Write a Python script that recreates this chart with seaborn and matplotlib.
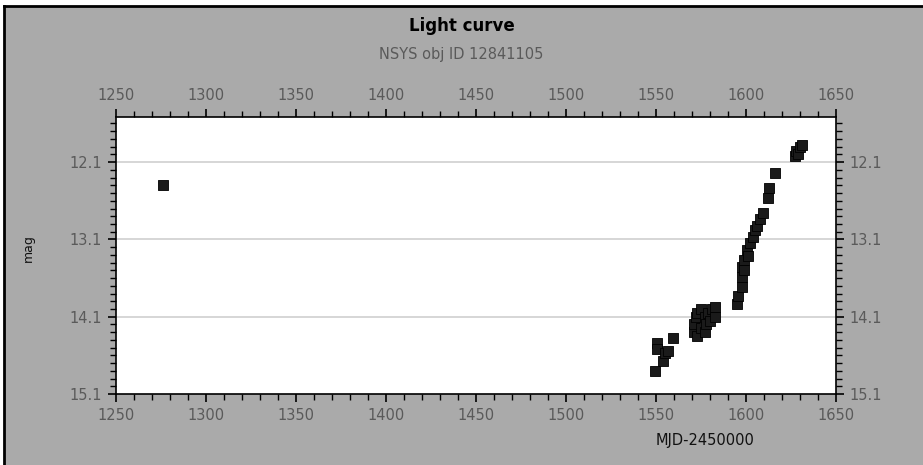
import numpy as np
import pandas as pd
import seaborn as sns
from matplotlib import pyplot as plt
from matplotlib.lines import Line2D
from matplotlib.patches import Rectangle
from matplotlib.ticker import MultipleLocator, FixedLocator

mjd = [1276,
       1549.5, 1550.5, 1550.5, 1554, 1555, 1556.5, 1559.4,
       1571, 1571, 1572, 1573, 1573, 1575, 1575, 1577, 1577, 1578,
       1579, 1580, 1581, 1583, 1583,
       1595, 1595.5, 1598, 1598, 1598, 1599, 1599, 1600.5, 1601,
       1602, 1604, 1605, 1606, 1608, 1609.6, 1612, 1613, 1616,
       1627, 1628, 1629, 1630, 1631]
mag = [12.40,
       14.80, 14.44, 14.52, 14.67, 14.57, 14.55, 14.37,
       14.30, 14.20, 14.10, 14.05, 14.35, 14.00, 14.25, 14.10, 14.30, 14.20,
       14.05, 14.15, 14.00, 13.97, 14.10,
       13.93, 13.83, 13.72, 13.59, 13.46, 13.50, 13.37, 13.24, 13.31,
       13.15, 13.07, 12.98, 12.92, 12.84, 12.76, 12.57, 12.44, 12.24,
       12.02, 11.95, 12.00, 11.90, 11.88]

x_ticks = [1250, 1300, 1350, 1400, 1450, 1500, 1550, 1600, 1650]
y_ticks = [12.1, 13.1, 14.1, 15.1]

df = pd.DataFrame({"mjd": mjd, "mag": mag})

bg = "#aaaaaa"
tick_col = "#5a5a5a"

fig = plt.figure(figsize=(9.23, 4.65), dpi=100, facecolor=bg)
ax = fig.add_axes([0.1257, 0.1527, 0.78, 0.5957])
ax.set_facecolor("white")

# horizontal grid at major magnitudes
for yv in y_ticks[:-1]:
    ax.axhline(yv, color="#d0d0d0", lw=1.2, zorder=0)

sns.scatterplot(data=df, x="mjd", y="mag", marker="s", s=44,
                color="#1a1a1a", edgecolor="black", linewidth=0.6, ax=ax, zorder=3)

ax.set_xlim(1250, 1650)
ax.set_ylim(15.1, 11.516)

ax.xaxis.set_major_locator(FixedLocator(x_ticks))
ax.xaxis.set_minor_locator(MultipleLocator(10))
ax.yaxis.set_major_locator(FixedLocator(y_ticks))
ax.yaxis.set_minor_locator(MultipleLocator(0.1))
ax.set_yticklabels([f"{v:.1f}" for v in y_ticks])

ax.tick_params(which="both", direction="out", top=True, right=True,
               labeltop=True, labelright=True, color="black",
               labelcolor=tick_col, labelsize=10.5)
ax.tick_params(which="major", length=6, width=1.2, pad=4)
ax.tick_params(which="minor", length=4, width=1.0)
for sp in ax.spines.values():
    sp.set_linewidth(1.2)
    sp.set_color("black")

ax.set_xlabel("")
ax.set_ylabel("")
fig.text(0.764, 0.053, "MJD-2450000", ha="center", va="center", fontsize=10.5, color="#111111")
fig.text(0.031, 0.467, "mag", ha="center", va="center", rotation=90, fontsize=9, color="#111111")

fig.text(0.5, 0.944, "Light curve", ha="center", va="center", fontsize=12,
         fontweight="bold", color="black")
fig.text(0.5, 0.882, "NSYS obj ID 12841105", ha="center", va="center",
         fontsize=10.5, color=tick_col)

# white strip at top and the black frame on the top and left edges
top_y = 1 - 6.5 / 465
left_x = 3.5 / 923
fig.patches.append(Rectangle((0, top_y), 1, 1 - top_y, transform=fig.transFigure,
                             facecolor="white", edgecolor="none"))
fig.patches.append(Rectangle((0, 0), left_x, 1, transform=fig.transFigure,
                             facecolor="white", edgecolor="none"))
fig.lines.append(Line2D([left_x, 1], [top_y, top_y], transform=fig.transFigure,
                        color="black", lw=2))
fig.lines.append(Line2D([left_x, left_x], [0, top_y], transform=fig.transFigure,
                        color="black", lw=2))

fig.savefig("out.png", dpi=100, facecolor=bg)
